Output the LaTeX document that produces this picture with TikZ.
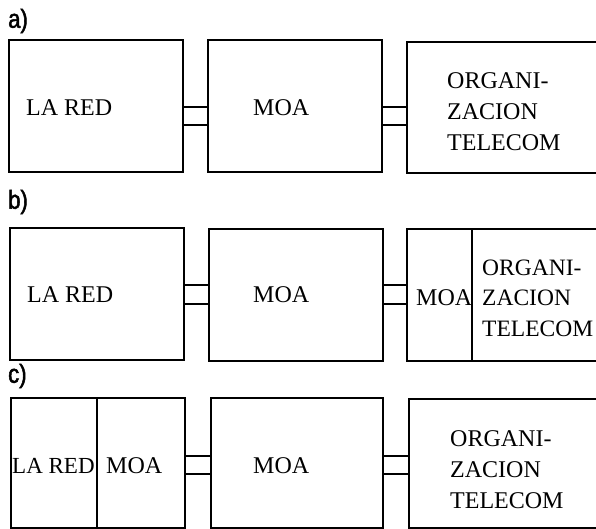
\documentclass[tikz,border=0pt]{standalone}
\usepackage{fontspec}
\setmainfont{Liberation Serif}
\newfontfamily\lblfont[FakeStretch=0.85,FakeBold=2]{Liberation Sans}

\begin{document}
\begin{tikzpicture}[x=1pt,y=-1pt,
  blk/.style={draw,line width=1.4pt,inner sep=0pt,outer sep=0pt,anchor=north west},
  txt/.style={font=\fontsize{24}{31}\selectfont,inner sep=0pt,anchor=west,align=left},
  lbl/.style={font=\lblfont\fontsize{26}{26}\selectfont,inner sep=0pt,anchor=west},
  wire/.style={line width=1.4pt}]
\useasboundingbox (0,0) rectangle (596,529);
\clip (0,0) rectangle (596,529);
% a)
\node[lbl] (la) at (8,21) {a)};
\node[blk,minimum width=174pt,minimum height=132pt] (reda) at (9,40) {};
\node[blk,minimum width=174pt,minimum height=132pt] (moaa) at (208,40) {};
\node[blk,minimum width=200pt,minimum height=131pt] (orga) at (407,42) {};
\node[txt] (ta1) at (26,108) {LA RED};
\node[txt] (ta2) at (253,108) {MOA};
\node[txt] (ta3) at (447,112) {ORGANI-\\ZACION\\TELECOM};
% b)
\node[lbl] (lb) at (8,202) {b)};
\node[blk,minimum width=174pt,minimum height=132pt] (redb) at (10,228) {};
\node[blk,minimum width=174pt,minimum height=132pt] (moab) at (209,229) {};
\node[blk,minimum width=200pt,minimum height=132pt] (orgb) at (407,229) {};
\coordinate (divb) at (472,0);
\draw[wire] (orgb.north -| divb) -- (orgb.south -| divb);
\node[txt] (tb1) at (27,295) {LA RED};
\node[txt] (tb2) at (253,295) {MOA};
\node[txt] (tb3) at (416,298) {MOA};
\node[txt,font=\fontsize{23.5}{30.5}\selectfont] (tb4) at (482,298) {ORGANI-\\ZACION\\TELECOM};
% c)
\node[lbl] (lc) at (8,376) {c)};
\node[blk,minimum width=174pt,minimum height=130pt] (redc) at (11,398) {};
\node[blk,minimum width=172pt,minimum height=130pt] (moac) at (211,398) {};
\node[blk,minimum width=200pt,minimum height=129pt] (orgc) at (409,399) {};
\coordinate (divc) at (97,0);
\draw[wire] (redc.north -| divc) -- (redc.south -| divc);
\node[txt,font=\fontsize{23}{30}\selectfont] (tc1) at (12,466) {LA RED};
\node[txt] (tc2) at (106,466) {MOA};
\node[txt] (tc3) at (253,466) {MOA};
\node[txt] (tc4) at (450,470) {ORGANI-\\ZACION\\TELECOM};
% connectors
\foreach \p/\q/\u/\v in {reda/moaa/107/125, moaa/orga/107/125,
    redb/moab/285/304, moab/orgb/285/304,
    redc/moac/456/474, moac/orgc/456/474} {
  \draw[wire] (\p.east |- 0,\u) -- (\q.west |- 0,\u);
  \draw[wire] (\p.east |- 0,\v) -- (\q.west |- 0,\v);
}
\end{tikzpicture}
\end{document}
